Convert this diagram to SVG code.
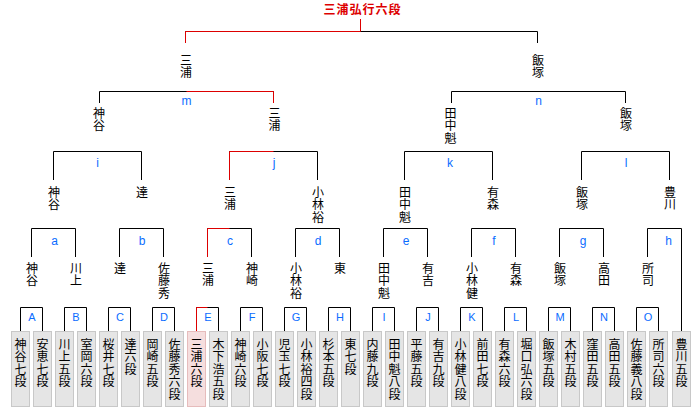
<svg xmlns="http://www.w3.org/2000/svg" width="700" height="408" viewBox="0 0 700 408">
<style>
.bg{fill:#ffffff}
.ln{fill:none;stroke:#000;stroke-width:1}
.rd{fill:none;stroke:#dd0000;stroke-width:1}
.nm{font-family:"Noto Sans CJK JP","Noto Sans CJK SC",sans-serif;font-size:12px;fill:#000;writing-mode:vertical-rl;text-orientation:upright;letter-spacing:0.4px}
.bx rect{fill:#e5e5e5;stroke:#c8c8c8;stroke-width:1}
.bx.win rect{fill:#f5dede;stroke:#e6bcbc}
.lb{font-family:"Liberation Sans",Arial,sans-serif;font-size:11px;fill:#0a6cff;text-anchor:middle}
.ls{font-family:"Liberation Sans",Arial,sans-serif;font-size:12px;fill:#0a6cff;text-anchor:middle}
.tt{font-family:"Noto Sans CJK JP","Noto Sans CJK SC",sans-serif;font-size:12px;font-weight:bold;fill:#dd0000;text-anchor:middle;letter-spacing:1px}
</style>
<rect class="bg" x="0" y="0" width="700" height="408"/>
<g id="connectors">
<path class="ln" d="M20.5 331V307.5H42.5V331M64.5 331V307.5H86.5V331M108.5 331V307.5H130.5V331M152.5 331V307.5H174.5V331M196.5 331V307.5H218.5V331M240.5 331V307.5H262.5V331M284.5 331V307.5H306.5V331M328.5 331V307.5H350.5V331M372.5 331V307.5H394.5V331M416.5 331V307.5H438.5V331M460.5 331V307.5H482.5V331M504.5 331V307.5H526.5V331M548.5 331V307.5H570.5V331M592.5 331V307.5H614.5V331M636.5 331V307.5H658.5V331"/>
<path class="ln" d="M31.5 257V228.5H75.5V257M119.5 257V228.5H163.5V257M207.5 257V228.5H251.5V257M295.5 257V228.5H339.5V257M383.5 257V228.5H427.5V257M471.5 257V228.5H515.5V257M559.5 257V228.5H603.5V257M647.5 257V228.5H681.5V331"/>
<path class="ln" d="M53.5 180V151.5H141.5V180M229.5 180V151.5H317.5V180M404.5 180V151.5H492.5V180M581.5 180V151.5H669.5V180"/>
<path class="ln" d="M99.5 103V91.5H273.5V103M451.5 103V91.5H625.5V103"/>
<path class="ln" d="M185.5 43V31.5H537.5V43"/>
<path class="rd" d="M196.5 331V307.5H207.5M207.5 257V228.5H229.5M229.5 180V151.5H273.5M186.5 91.5H273.5V103M185.5 43V31.5H360.5M360.5 19V31.5"/>
<g id="match-labels">
<text class="lb" x="32" y="321">A</text><text class="lb" x="76" y="321">B</text><text class="lb" x="120" y="321">C</text><text class="lb" x="164" y="321">D</text><text class="lb" x="208" y="321">E</text><text class="lb" x="252" y="321">F</text><text class="lb" x="296" y="321">G</text><text class="lb" x="340" y="321">H</text><text class="lb" x="384" y="321">I</text><text class="lb" x="428" y="321">J</text><text class="lb" x="472" y="321">K</text><text class="lb" x="516" y="321">L</text><text class="lb" x="560" y="321">M</text><text class="lb" x="604" y="321">N</text><text class="lb" x="648" y="321">O</text>
<text class="ls" x="54.5" y="245">a</text><text class="ls" x="142" y="245">b</text><text class="ls" x="230" y="245">c</text><text class="ls" x="318" y="245">d</text><text class="ls" x="406" y="245">e</text><text class="ls" x="494" y="245">f</text><text class="ls" x="583" y="245">g</text><text class="ls" x="668.5" y="245">h</text>
<text class="ls" x="97.5" y="167">i</text><text class="ls" x="274" y="167">j</text><text class="ls" x="450" y="167">k</text><text class="ls" x="626" y="167">l</text>
<text class="ls" x="186.5" y="105">m</text><text class="ls" x="538.5" y="105">n</text>
</g>
</g>
<g id="champion"><text class="tt" x="362.5" y="13.5">三浦弘行六段</text></g>
<g id="r4-1"><text class="nm" x="186" y="54.4">三浦</text></g>
<g id="r4-2"><text class="nm" x="538" y="54.4">飯塚</text></g>
<g id="r3-1"><text class="nm" x="99" y="107.4">神谷</text></g>
<g id="r3-2"><text class="nm" x="274.5" y="107.4">三浦</text></g>
<g id="r3-3"><text class="nm" x="450.5" y="107.4">田中魁</text></g>
<g id="r3-4"><text class="nm" x="626" y="107.4">飯塚</text></g>
<g id="r2-1"><text class="nm" x="54" y="186.4">神谷</text></g>
<g id="r2-2"><text class="nm" x="142" y="186.4">達</text></g>
<g id="r2-3"><text class="nm" x="230" y="186.4">三浦</text></g>
<g id="r2-4"><text class="nm" x="318" y="186.4">小林裕</text></g>
<g id="r2-5"><text class="nm" x="405" y="186.4">田中魁</text></g>
<g id="r2-6"><text class="nm" x="493" y="186.4">有森</text></g>
<g id="r2-7"><text class="nm" x="582" y="186.4">飯塚</text></g>
<g id="r2-8"><text class="nm" x="670" y="186.4">豊川</text></g>
<g id="r1-1"><text class="nm" x="32" y="262.4">神谷</text></g>
<g id="r1-2"><text class="nm" x="76" y="262.4">川上</text></g>
<g id="r1-3"><text class="nm" x="120" y="262.4">達</text></g>
<g id="r1-4"><text class="nm" x="164" y="262.4">佐藤秀</text></g>
<g id="r1-5"><text class="nm" x="208" y="262.4">三浦</text></g>
<g id="r1-6"><text class="nm" x="252" y="262.4">神崎</text></g>
<g id="r1-7"><text class="nm" x="296" y="262.4">小林裕</text></g>
<g id="r1-8"><text class="nm" x="340" y="262.4">東</text></g>
<g id="r1-9"><text class="nm" x="384" y="262.4">田中魁</text></g>
<g id="r1-10"><text class="nm" x="428" y="262.4">有吉</text></g>
<g id="r1-11"><text class="nm" x="472" y="262.4">小林健</text></g>
<g id="r1-12"><text class="nm" x="516" y="262.4">有森</text></g>
<g id="r1-13"><text class="nm" x="560" y="262.4">飯塚</text></g>
<g id="r1-14"><text class="nm" x="604" y="262.4">高田</text></g>
<g id="r1-15"><text class="nm" x="648" y="262.4">所司</text></g>
<g id="p1" class="bx"><rect x="11.5" y="331.5" width="18" height="75"/><text class="nm" x="20.5" y="338.4">神谷七段</text></g>
<g id="p2" class="bx"><rect x="33.5" y="331.5" width="18" height="75"/><text class="nm" x="42.5" y="338.4">安恵七段</text></g>
<g id="p3" class="bx"><rect x="55.5" y="331.5" width="18" height="75"/><text class="nm" x="64.5" y="338.4">川上五段</text></g>
<g id="p4" class="bx"><rect x="77.5" y="331.5" width="18" height="75"/><text class="nm" x="86.5" y="338.4">室岡六段</text></g>
<g id="p5" class="bx"><rect x="99.5" y="331.5" width="18" height="75"/><text class="nm" x="108.5" y="338.4">桜井七段</text></g>
<g id="p6" class="bx"><rect x="121.5" y="331.5" width="18" height="75"/><text class="nm" x="130.5" y="338.4">達六段</text></g>
<g id="p7" class="bx"><rect x="143.5" y="331.5" width="18" height="75"/><text class="nm" x="152.5" y="338.4">岡崎五段</text></g>
<g id="p8" class="bx"><rect x="165.5" y="331.5" width="18" height="75"/><text class="nm" x="174.5" y="338.4">佐藤秀六段</text></g>
<g id="p9" class="bx win"><rect x="187.5" y="331.5" width="18" height="75"/><text class="nm" x="196.5" y="338.4">三浦六段</text></g>
<g id="p10" class="bx"><rect x="209.5" y="331.5" width="18" height="75"/><text class="nm" x="218.5" y="338.4">木下浩五段</text></g>
<g id="p11" class="bx"><rect x="231.5" y="331.5" width="18" height="75"/><text class="nm" x="240.5" y="338.4">神崎六段</text></g>
<g id="p12" class="bx"><rect x="253.5" y="331.5" width="18" height="75"/><text class="nm" x="262.5" y="338.4">小阪七段</text></g>
<g id="p13" class="bx"><rect x="275.5" y="331.5" width="18" height="75"/><text class="nm" x="284.5" y="338.4">児玉七段</text></g>
<g id="p14" class="bx"><rect x="297.5" y="331.5" width="18" height="75"/><text class="nm" x="306.5" y="338.4">小林裕四段</text></g>
<g id="p15" class="bx"><rect x="319.5" y="331.5" width="18" height="75"/><text class="nm" x="328.5" y="338.4">杉本五段</text></g>
<g id="p16" class="bx"><rect x="341.5" y="331.5" width="18" height="75"/><text class="nm" x="350.5" y="338.4">東七段</text></g>
<g id="p17" class="bx"><rect x="363.5" y="331.5" width="18" height="75"/><text class="nm" x="372.5" y="338.4">内藤九段</text></g>
<g id="p18" class="bx"><rect x="385.5" y="331.5" width="18" height="75"/><text class="nm" x="394.5" y="338.4">田中魁八段</text></g>
<g id="p19" class="bx"><rect x="407.5" y="331.5" width="18" height="75"/><text class="nm" x="416.5" y="338.4">平藤五段</text></g>
<g id="p20" class="bx"><rect x="429.5" y="331.5" width="18" height="75"/><text class="nm" x="438.5" y="338.4">有吉九段</text></g>
<g id="p21" class="bx"><rect x="451.5" y="331.5" width="18" height="75"/><text class="nm" x="460.5" y="338.4">小林健八段</text></g>
<g id="p22" class="bx"><rect x="473.5" y="331.5" width="18" height="75"/><text class="nm" x="482.5" y="338.4">前田七段</text></g>
<g id="p23" class="bx"><rect x="495.5" y="331.5" width="18" height="75"/><text class="nm" x="504.5" y="338.4">有森六段</text></g>
<g id="p24" class="bx"><rect x="517.5" y="331.5" width="18" height="75"/><text class="nm" x="526.5" y="338.4">堀口弘六段</text></g>
<g id="p25" class="bx"><rect x="539.5" y="331.5" width="18" height="75"/><text class="nm" x="548.5" y="338.4">飯塚五段</text></g>
<g id="p26" class="bx"><rect x="561.5" y="331.5" width="18" height="75"/><text class="nm" x="570.5" y="338.4">木村五段</text></g>
<g id="p27" class="bx"><rect x="583.5" y="331.5" width="18" height="75"/><text class="nm" x="592.5" y="338.4">窪田五段</text></g>
<g id="p28" class="bx"><rect x="605.5" y="331.5" width="18" height="75"/><text class="nm" x="614.5" y="338.4">高田五段</text></g>
<g id="p29" class="bx"><rect x="627.5" y="331.5" width="18" height="75"/><text class="nm" x="636.5" y="338.4">佐藤義八段</text></g>
<g id="p30" class="bx"><rect x="649.5" y="331.5" width="18" height="75"/><text class="nm" x="658.5" y="338.4">所司六段</text></g>
<g id="p31" class="bx"><rect x="672.5" y="331.5" width="18" height="75"/><text class="nm" x="681.5" y="338.4">豊川五段</text></g>
</svg>
